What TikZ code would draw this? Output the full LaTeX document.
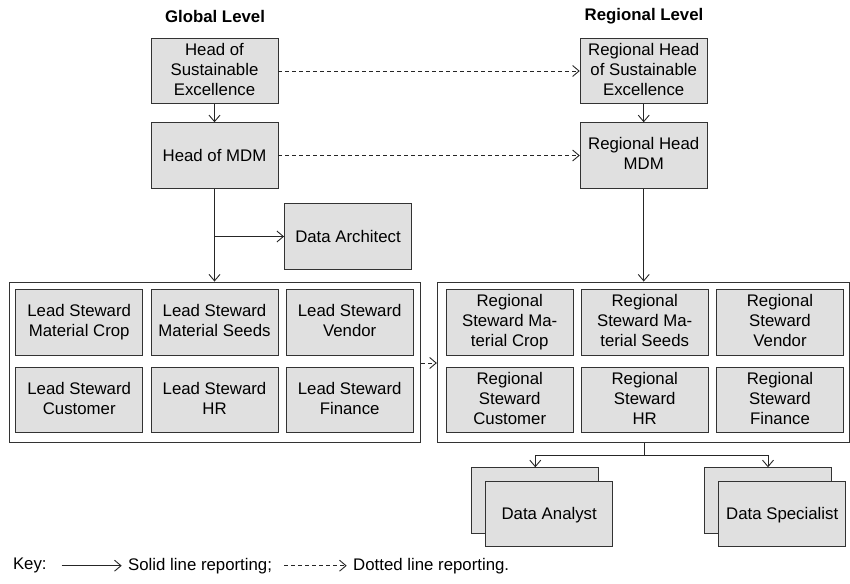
\documentclass[tikz,border=0pt]{standalone}
\usepackage{fontspec}
\setmainfont{Liberation Sans}
\usetikzlibrary{arrows.meta}
\newcommand\boxstrut{\rule[-4pt]{0pt}{20pt}}
\begin{document}
\begin{tikzpicture}[x=1pt,y=-1pt,
  txt/.style={font=\fontsize{16.8}{20}\selectfont},
  box/.style={txt, draw=black!80, fill=black!12, line width=0.9pt, align=center, inner sep=0pt, minimum width=127pt, minimum height=65.5pt, execute at begin node=\boxstrut, execute at end node=\boxstrut},
  group/.style={draw=black!80, fill=white, line width=0.9pt, inner sep=0pt},
  arr/.style={-{Straight Barb[length=6.5pt,width=11pt]}, line width=0.9pt, draw=black!85},
  darr/.style={arr, dash pattern=on 4pt off 3pt}]
\useasboundingbox (0,0) rectangle (850,583);

% titles
\node[txt, font=\fontsize{16.8}{20}\selectfont\bfseries] (tg) at (215,16) {Global Level};
\node[txt, font=\fontsize{16.8}{20}\selectfont\bfseries] (tr) at (644,16) {Regional Level};

% global heads
\node[box] (hse) at (214.5,71) {Head of\\Sustainable\\Excellence};
\node[box] (hmdm) at (214.5,155.5) {Head of MDM};
\node[box] (da) at (348,236.5) {Data Architect};

% regional heads
\node[box] (rhse) at (643.7,71) {Regional Head\\of Sustainable\\Excellence};
\node[box] (rhmdm) at (643.7,155.5) {Regional Head\\MDM};

% group boxes
\node[group, minimum width=411.7pt, minimum height=160.7pt] (gl) at (214.85,362.35) {};
\node[group, minimum width=412pt, minimum height=160.7pt] (gr) at (643.3,362.35) {};

% lead stewards
\node[box] (l1) at (79.2,322.5) {Lead Steward\\Material Crop};
\node[box] (l2) at (214.5,322.5) {Lead Steward\\Material Seeds};
\node[box] (l3) at (349.7,322.5) {Lead Steward\\Vendor};
\node[box] (l4) at (79.2,400) {Lead Steward\\Customer};
\node[box] (l5) at (214.5,400) {Lead Steward\\HR};
\node[box] (l6) at (349.7,400) {Lead Steward\\Finance};

% regional stewards
\node[box] (r1) at (509.7,322.5) {Regional\\Steward Ma-\\terial Crop};
\node[box] (r2) at (644.7,322.5) {Regional\\Steward Ma-\\terial Seeds};
\node[box] (r3) at (780,322.5) {Regional\\Steward\\Vendor};
\node[box] (r4) at (509.7,400) {Regional\\Steward\\Customer};
\node[box] (r5) at (644.7,400) {Regional\\Steward\\HR};
\node[box] (r6) at (780,400) {Regional\\Steward\\Finance};

% data analyst / specialist (stacked)
\node[box] (dab) at (535.3,500.5) {};
\node[box] (daf) at (549.2,513.7) {Data Analyst};
\node[box] (dsb) at (768,500.5) {};
\node[box] (dsf) at (782.2,513.7) {Data Specialist};

% connectors
\draw[arr] (hse) -- (hmdm);
\draw[arr] (rhse) -- (rhmdm);
\draw[darr] (hse) -- (rhse);
\draw[darr] (hmdm) -- (rhmdm);
\draw[arr] (hmdm) -- (gl.north -| hmdm);
\coordinate (br) at (214.5,236.5);
\draw[arr] (br) -- (da);
\draw[arr] (rhmdm) -- (gr.north -| rhmdm);
\draw[darr] (gl.east |- 0,363) -- (gr.west |- 0,363);
\coordinate (split) at (644,455);
\draw[line width=0.9pt, draw=black!85] (gr.south -| split) -- (split);
\draw[arr] (split) -| (dab.north);
\draw[arr] (split) -| (dsb.north);

% key
\node[txt, anchor=west] (key) at (9.5,565.7) {Key:};
\coordinate (k1a) at (61.7,565.7);
\coordinate (k1b) at (121.7,565.7);
\draw[arr] (k1a) -- (k1b);
\node[txt, anchor=west, inner sep=0pt] (ks) at (128,565.7) {Solid line reporting;};
\coordinate (k2a) at (284,565.7);
\coordinate (k2b) at (346.7,565.7);
\draw[darr] (k2a) -- (k2b);
\node[txt, anchor=west, inner sep=0pt] (kd) at (353,565.7) {Dotted line reporting.};
\end{tikzpicture}
\end{document}
